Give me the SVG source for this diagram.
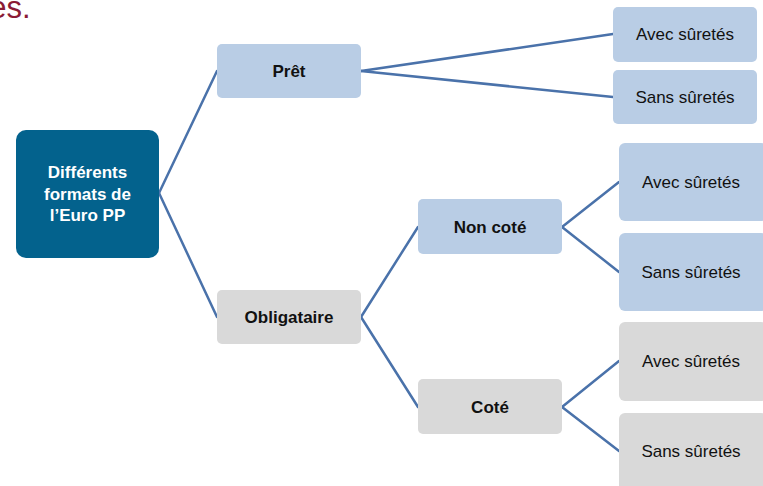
<svg xmlns="http://www.w3.org/2000/svg" width="763" height="486" viewBox="0 0 763 486">
<style>
.blue{fill:#B9CDE5}
.gray{fill:#D9D9D9}
.root{fill:#03628D}
.lbl{font-family:"Liberation Sans",Arial,sans-serif;font-size:17px;font-weight:bold;fill:#111;text-anchor:middle}
.leaf{font-family:"Liberation Sans",Arial,sans-serif;font-size:17px;fill:#111;text-anchor:middle}
.rl{font-family:"Liberation Sans",Arial,sans-serif;font-size:17px;font-weight:bold;fill:#fff;text-anchor:middle}
.conn line{stroke:#4A72AA;stroke-width:2.5;stroke-linecap:round}
</style>
<rect width="763" height="486" fill="#fff"/>
<text x="30.5" y="18" font-family="Liberation Sans,Arial,sans-serif" font-size="31" fill="#8B1B35" text-anchor="end">es.</text>
<g class="conn" id="connectors">
<line x1="159" y1="193" x2="217" y2="71"/>
<line x1="159" y1="193" x2="217" y2="317"/>
<line x1="361" y1="71" x2="613" y2="34"/>
<line x1="361" y1="71" x2="613" y2="97"/>
<line x1="361" y1="317" x2="418" y2="227"/>
<line x1="361" y1="317" x2="418" y2="407"/>
<line x1="562" y1="227" x2="619" y2="182"/>
<line x1="562" y1="227" x2="619" y2="272"/>
<line x1="562" y1="407" x2="619" y2="361"/>
<line x1="562" y1="407" x2="619" y2="451"/>
</g>
<g id="root"><rect class="root" x="16" y="130" width="143" height="128" rx="10"/>
<text class="rl" x="87.5" y="178">Différents</text>
<text class="rl" x="87.5" y="199.5">formats de</text>
<text class="rl" x="87.5" y="221">l’Euro PP</text></g>
<g id="pret"><rect class="blue" x="217" y="44" width="144" height="54" rx="5"/><text class="lbl" x="289" y="77">Prêt</text></g>
<g id="pret-avec"><rect class="blue" x="613" y="7" width="144" height="55" rx="5"/><text class="leaf" x="685" y="40">Avec sûretés</text></g>
<g id="pret-sans"><rect class="blue" x="613" y="70" width="144" height="54" rx="5"/><text class="leaf" x="685" y="103">Sans sûretés</text></g>
<g id="oblig"><rect class="gray" x="217" y="290" width="144" height="54" rx="5"/><text class="lbl" x="289" y="323">Obligataire</text></g>
<g id="noncote"><rect class="blue" x="418" y="199" width="144" height="55" rx="5"/><text class="lbl" x="490" y="233">Non coté</text></g>
<g id="nc-avec"><rect class="blue" x="619" y="143" width="148" height="78" rx="6"/><text class="leaf" x="691" y="188">Avec sûretés</text></g>
<g id="nc-sans"><rect class="blue" x="619" y="233" width="148" height="78" rx="6"/><text class="leaf" x="691" y="278">Sans sûretés</text></g>
<g id="cote"><rect class="gray" x="418" y="379" width="144" height="55" rx="5"/><text class="lbl" x="490" y="413">Coté</text></g>
<g id="c-avec"><rect class="gray" x="619" y="322" width="148" height="79" rx="6"/><text class="leaf" x="691" y="367">Avec sûretés</text></g>
<g id="c-sans"><rect class="gray" x="619" y="413" width="148" height="79" rx="6"/><text class="leaf" x="691" y="457">Sans sûretés</text></g>
</svg>
